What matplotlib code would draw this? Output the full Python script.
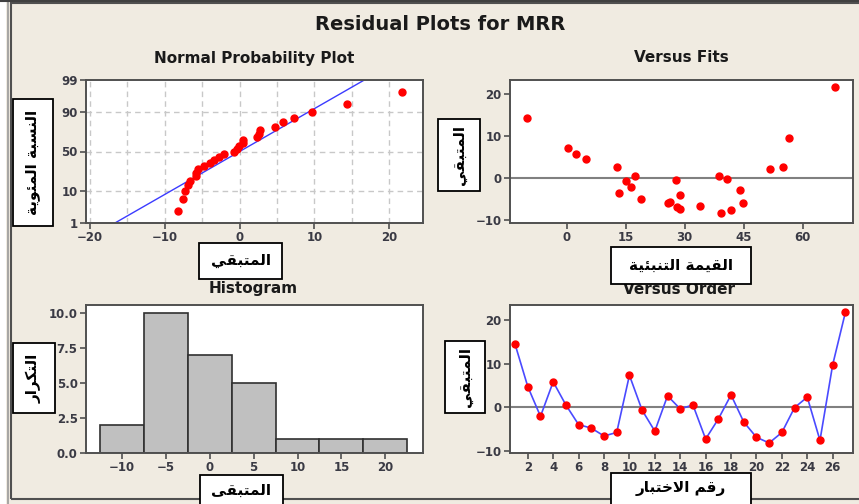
import numpy as np
import matplotlib.pyplot as plt
from matplotlib.patches import Rectangle
from statistics import NormalDist

# residual plots (Minitab style)
residuals = [14.4, 4.7, -2.1, 5.8, 0.5, -4.0, -4.8, -6.6, -5.8, 7.3, -0.7, -5.5, 2.6, -0.4,
             0.5, -7.3, -2.7, 2.8, -3.4, -6.9, -8.2, -5.8, -0.1, 2.3, -7.6, 9.7, 21.7]
fits = [-10.0, 4.8, 16.4, 2.5, 38.7, 28.8, 18.9, 33.9, 25.8, 0.3, 15.2, 26.2, 12.9, 27.8,
        17.5, 28.9, 44.1, 55.1, 13.3, 28.1, 39.2, 44.8, 40.7, 51.7, 41.8, 56.6, 68.1]
order = list(range(1, 28))
hist_bins = [-12.5, -7.5, -2.5, 2.5, 7.5, 12.5, 17.5, 22.5]
prob_ticks = [1, 10, 50, 90, 99]

title = "Residual Plots for MRR"
sub_titles = ["Normal Probability Plot", "Versus Fits", "Histogram", "Versus Order"]
lbl_pct = "النسبة المئوية"
lbl_res = "المتبقي"
lbl_res2 = "المتبقى"
lbl_fit = "القيمة التنبئية"
lbl_freq = "التكرار"
lbl_ord = "رقم الاختبار"

# ---- tiny arabic shaper (matplotlib has no text shaping) ----
# letter: (isolated, final, initial, medial)
AR = {
    'ا': ('\uFE8D', '\uFE8E', None, None),
    'ب': ('\uFE8F', '\uFE90', '\uFE91', '\uFE92'),
    'ة': ('\uFE93', '\uFE94', None, None),
    'ت': ('\uFE95', '\uFE96', '\uFE97', '\uFE98'),
    'خ': ('\uFEA5', '\uFEA6', '\uFEA7', '\uFEA8'),
    'ر': ('\uFEAD', '\uFEAE', None, None),
    'س': ('\uFEB1', '\uFEB2', '\uFEB3', '\uFEB4'),
    'ق': ('\uFED5', '\uFED6', '\uFED7', '\uFED8'),
    'ك': ('\uFED9', '\uFEDA', '\uFEDB', '\uFEDC'),
    'ل': ('\uFEDD', '\uFEDE', '\uFEDF', '\uFEE0'),
    'م': ('\uFEE1', '\uFEE2', '\uFEE3', '\uFEE4'),
    'ن': ('\uFEE5', '\uFEE6', '\uFEE7', '\uFEE8'),
    'و': ('\uFEED', '\uFEEE', None, None),
    'ى': ('\uFEEF', '\uFEF0', None, None),
    'ي': ('\uFEF1', '\uFEF2', '\uFEF3', '\uFEF4'),
    'ئ': ('\uFE89', '\uFE8A', '\uFE8B', '\uFE8C'),
}


def shape(txt):
    out = []
    i = 0
    prev_joins = False
    while i < len(txt):
        c = txt[i]
        if c not in AR:
            out.append(c)
            prev_joins = False
            i += 1
            continue
        nxt = txt[i + 1] if i + 1 < len(txt) else ''
        if c == 'ل' and nxt == 'ا':
            out.append('\uFEFC' if prev_joins else '\uFEFB')
            prev_joins = False
            i += 2
            continue
        f = AR[c]
        dual = f[2] is not None
        join_next = dual and nxt in AR
        if prev_joins and join_next:
            g = f[3]
        elif prev_joins:
            g = f[1]
        elif join_next:
            g = f[2]
        else:
            g = f[0]
        out.append(g)
        prev_joins = join_next
        i += 1
    return ''.join(out)[::-1]


plt.rcParams['font.family'] = ['DejaVu Sans']
plt.rcParams['font.weight'] = 'bold'

W, H = 859, 504
bg = '#F0EBE1'
fig = plt.figure(figsize=(W / 100, H / 100), dpi=100, facecolor=bg)


def rect(l, t, r, b):
    return [l / W, 1 - b / H, (r - l) / W, (b - t) / H]


def style(ax):
    ax.set_facecolor('white')
    for s in ax.spines.values():
        s.set_color('#505050')
        s.set_linewidth(1.4)
    ax.tick_params(direction='out', length=4, width=1.2, color='#505050',
                   labelsize=8.5, labelcolor='#3a3a44', pad=2)


def label_box(l, t, r, b, txt, rot=0, cy=None):
    fig.add_artist(Rectangle((l / W, 1 - b / H), (r - l) / W, (b - t) / H,
                             transform=fig.transFigure, facecolor='white',
                             edgecolor='black', lw=1.3, zorder=5))
    if cy is None:
        cy = (t + b) / 2
    fig.text((l + r) / 2 / W, 1 - cy / H, shape(txt), rotation=rot, ha='center',
             va='center', fontsize=11, fontweight='bold', color='black', zorder=6)


# frame of the window
fig.add_artist(Rectangle((0, 0), 6 / W, 1, transform=fig.transFigure,
                         facecolor='white', edgecolor='none', zorder=1))
fig.add_artist(plt.Line2D([7.5 / W, 7.5 / W], [0, 1], transform=fig.transFigure,
                          color='#9a9a9a', lw=1.2))
fig.add_artist(Rectangle((11 / W, 1 - 499 / H), 1.0, (499 - 3) / H,
                         transform=fig.transFigure, facecolor='none',
                         edgecolor='#505050', lw=1.5, zorder=1))
fig.add_artist(plt.Line2D([0, 1], [1 - 1 / H, 1 - 1 / H], transform=fig.transFigure,
                          color='#404040', lw=1.5))

fig.text(440 / W, 1 - 25 / H, title, ha='center', va='center', fontsize=14,
         fontweight='bold', color='#1a1a1a')
sub_pos = [(254, 58), (681, 58), (253, 289), (679, 289)]
for (x, y), s in zip(sub_pos, sub_titles):
    fig.text(x / W, 1 - y / H, s, ha='center', va='center', fontsize=11,
             fontweight='bold', color='#1a1a1a')

nd = NormalDist()
res = np.array(residuals)
n = len(res)

# Normal probability plot
ax1 = fig.add_axes(rect(86, 80, 423, 223))
style(ax1)
srt = np.sort(res)
pp = [(i - 0.3) / (n + 0.4) for i in range(1, n + 1)]
zz = [nd.inv_cdf(p) for p in pp]
for gx in range(-20, 25, 5):
    ax1.axvline(gx, color='#C8C8C8', lw=1, ls=(0, (4, 3)), zorder=0)
for gp in [10, 50, 90]:
    ax1.axhline(nd.inv_cdf(gp / 100), color='#C8C8C8', lw=1, ls=(0, (4, 3)), zorder=0)
mu, sd = res.mean(), res.std(ddof=1)
zl = np.array([nd.inv_cdf(0.005), nd.inv_cdf(0.995)])
ax1.plot(mu + sd * zl, zl, color='#3B3BFF', lw=1)
ax1.plot(srt, zz, 'o', color='#FF0000', ms=5, zorder=3)
ax1.set_xlim(-20.5, 24.5)
ax1.set_ylim(nd.inv_cdf(0.01), nd.inv_cdf(0.99))
ax1.set_xticks([-20, -10, 0, 10, 20])
ax1.set_yticks([nd.inv_cdf(p / 100) for p in prob_ticks])
ax1.set_yticklabels([str(p) for p in prob_ticks])

# Versus fits
ax2 = fig.add_axes(rect(510, 80, 853, 223))
style(ax2)
ax2.axhline(0, color='#808080', lw=1.5, zorder=1)
ax2.plot(fits, residuals, 'o', color='#FF0000', ms=5, zorder=3)
ax2.set_xlim(-14.4, 72.8)
ax2.set_ylim(-10.6, 23.4)
ax2.set_xticks([0, 15, 30, 45, 60])
ax2.set_yticks([-10, 0, 10, 20])

# Histogram
ax3 = fig.add_axes(rect(86, 305, 423, 453))
style(ax3)
ax3.hist(residuals, bins=hist_bins, color='#C0C0C0', edgecolor='#303030', lw=1.2)
ax3.set_xlim(-14.1, 24.3)
ax3.set_ylim(0, 10.6)
ax3.set_xticks([-10, -5, 0, 5, 10, 15, 20])
ax3.set_yticks([0, 2.5, 5, 7.5, 10])
ax3.set_yticklabels(['0.0', '2.5', '5.0', '7.5', '10.0'])

# Versus order
ax4 = fig.add_axes(rect(510, 305, 853, 453))
style(ax4)
ax4.axhline(0, color='#808080', lw=1.5, zorder=1)
ax4.plot(order, residuals, '-', color='#4A4AFF', lw=1.2, zorder=2)
ax4.plot(order, residuals, 'o', color='#FF0000', ms=5, zorder=3)
ax4.set_xlim(0.6, 27.6)
ax4.set_ylim(-10.5, 23.4)
ax4.set_xticks(range(2, 27, 2))
ax4.set_yticks([-10, 0, 10, 20])

# arabic axis label boxes
label_box(13, 99, 53, 226, lbl_pct, rot=90)
label_box(199, 243, 282, 279, lbl_res)
label_box(438, 119, 480, 191, lbl_res, rot=90)
label_box(611, 247, 751, 284, lbl_fit)
label_box(13, 343, 55, 413, lbl_freq, rot=90)
label_box(200, 475, 283, 512, lbl_res2, cy=490)
label_box(445, 341, 485, 413, lbl_res, rot=90)
label_box(611, 473, 751, 512, lbl_ord, cy=488)

fig.savefig('out.png', dpi=100, facecolor=bg)
